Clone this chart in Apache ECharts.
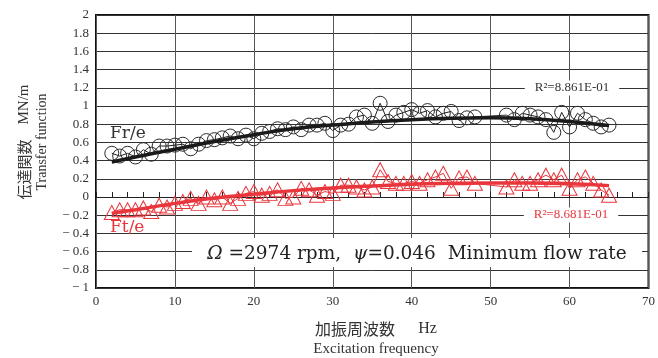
<!DOCTYPE html>
<html>
<head>
<meta charset="utf-8">
<script src="https://cdn.jsdelivr.net/npm/echarts@6/dist/echarts.min.js"></script>
<style>
html,body{margin:0;padding:0;background:#fff;}
#chart{width:658px;height:358px;}
</style>
</head>
<body>
<div id="chart"></div>
<script>
// ---- data ----
var frX = [2,3,4,5,6,7,8,9,10,11,12,13,14,15,16,17,18,19,20,21,22,23,24,25,26,27,28,29,30,31,32,33,34,35,36,37,38,39,40,41,42,43,44,45,46,47,48,52,53,54,55,56,57,58,59,60,61,62,63,64,65];
var frY = [0.48,0.45,0.48,0.44,0.52,0.47,0.56,0.56,0.57,0.58,0.53,0.58,0.62,0.63,0.65,0.67,0.64,0.68,0.64,0.70,0.72,0.75,0.74,0.77,0.74,0.79,0.79,0.81,0.73,0.79,0.80,0.88,0.90,0.81,1.03,0.83,0.90,0.93,0.96,0.92,0.95,0.88,0.92,0.94,0.84,0.87,0.88,0.90,0.85,0.92,0.90,0.88,0.85,0.71,0.93,0.77,0.92,0.85,0.81,0.77,0.79];
var ftX = frX;
var ftY = [-0.17,-0.14,-0.14,-0.14,-0.12,-0.16,-0.09,-0.11,-0.07,-0.05,-0.015,-0.07,0.0,-0.03,0.0,-0.07,-0.015,0.04,0.06,0.02,0.04,0.08,-0.015,0.0,0.095,0.08,0.02,0.06,0.04,0.13,0.13,0.11,0.077,0.11,0.30,0.17,0.15,0.15,0.17,0.15,0.19,0.22,0.26,0.095,0.21,0.22,0.15,0.11,0.19,0.15,0.15,0.19,0.24,0.19,0.24,0.095,0.19,0.22,0.15,0.077,0.02];
var trendX = [2,5,10,15,20,25,30,35,40,45,50,55,60,65];
var frTrend = [0.385,0.44,0.525,0.61,0.685,0.75,0.79,0.825,0.85,0.865,0.87,0.86,0.83,0.785];
var ftTrend = [-0.18,-0.14,-0.07,-0.01,0.03,0.07,0.10,0.12,0.14,0.15,0.155,0.155,0.145,0.125];
var xTicks = {min:0, max:70, step:10};
var yTicks = {min:-1, max:2, step:0.2};
var labels = {
  fr: 'Fr/e', ft: 'Ft/e',
  frR2: 'R\u00b2=8.861E-01', ftR2: 'R\u00b2=8.681E-01',
  yNameJa: '伝達関数\u3000', yNameUnit: 'MN/m', yNameEn: 'Transfer function',
  xNameJa: '加振周波数\u3000  ', xNameUnit: 'Hz', xNameEn: 'Excitation frequency'
};

function pairs(xs, ys){ return xs.map(function(x,i){ return [x, ys[i]]; }); }

var RED = '#e8363c';
var SERIF = '"Liberation Serif", "DejaVu Serif", serif';
var chart = echarts.init(document.getElementById('chart'), null, {renderer:'canvas'});
var option = {
  animation: false,
  backgroundColor: '#fff',
  grid: {left: 96, right: 3, top: 15, bottom: 70, show: true, borderColor: '#111', borderWidth: 2, backgroundColor: 'transparent'},
  xAxis: [{
    type: 'value', min: xTicks.min, max: xTicks.max, interval: xTicks.step, position: 'bottom',
    axisLine: {show: false, onZero: false}, axisTick: {show: false},
    axisLabel: {color: '#333', fontFamily: SERIF, fontSize: 13, margin: 7},
    splitLine: {show: true, lineStyle: {color: '#555', width: 1}}
  },{
    type: 'value', min: xTicks.min, max: xTicks.max, interval: 2, position: 'bottom',
    axisLine: {show: true, onZero: true, lineStyle: {color: '#222', width: 1}},
    axisTick: {show: true, inside: true, length: 5, lineStyle: {color: '#222', width: 1}},
    axisLabel: {show: false}, splitLine: {show: false}
  }],
  yAxis: {
    type: 'value', min: yTicks.min, max: yTicks.max, interval: yTicks.step,
    axisLine: {show: false, onZero: false}, axisTick: {show: false},
    axisLabel: {color: '#333', fontFamily: SERIF, fontSize: 13, margin: 7,
      formatter: function(v){ v = parseFloat(v.toFixed(1)); return v < 0 ? '\u2212 ' + (-v) : String(v); }},
    splitLine: {show: true, lineStyle: {color: '#333', width: 1}}
  },
  series: [{
    name: 'Fr/e', type: 'line', data: pairs(frX, frY),
    symbol: 'circle', symbolSize: 14,
    itemStyle: {color: 'rgba(0,0,0,0)', borderColor: '#2a2a2a', borderWidth: 1},
    lineStyle: {color: '#222', width: 1}, z: 3
  },{
    name: 'Fr trend', type: 'line', data: pairs(trendX, frTrend), smooth: true,
    symbol: 'none', lineStyle: {color: '#1a1a1a', width: 3.5}, z: 4
  },{
    name: 'Ft/e', type: 'line', data: pairs(ftX, ftY),
    symbol: 'triangle', symbolSize: [15, 14],
    itemStyle: {color: 'rgba(0,0,0,0)', borderColor: RED, borderWidth: 1},
    lineStyle: {color: RED, width: 1}, z: 3
  },{
    name: 'Ft trend', type: 'line', data: pairs(trendX, ftTrend), smooth: true,
    symbol: 'none', lineStyle: {color: RED, width: 3.5}, z: 4
  }],
  graphic: [
    {type: 'text', x: 110, y: 134, z: 100, style: {text: labels.fr, font: '17px "DejaVu Serif", serif', fill: '#333', align: 'left', verticalAlign: 'middle'}},
    {type: 'text', x: 110, y: 228, z: 100, style: {text: labels.ft, font: '17px "DejaVu Serif", serif', fill: RED, align: 'left', verticalAlign: 'middle'}},
    {type: 'text', x: 572, y: 88, z: 100, style: {text: labels.frR2, font: '13px ' + SERIF, fill: '#333', align: 'center', verticalAlign: 'middle', backgroundColor: '#fff', padding: [1, 10]}},
    {type: 'text', x: 571, y: 215, z: 100, style: {text: labels.ftR2, font: '13px ' + SERIF, fill: RED, align: 'center', verticalAlign: 'middle', backgroundColor: '#fff', padding: [1, 10]}},
    {type: 'rect', z: 100, shape: {x: 192, y: 238, width: 450, height: 29}, style: {fill: '#fff'}},
    {type: 'text', x: 417, y: 254, z: 101, style: {
      text: '{i|\u03a9} =2974 rpm,  {i|\u03c8}=0.046  Minimum flow rate',
      font: '18.5px "DejaVu Serif", serif', fill: '#222', align: 'center', verticalAlign: 'middle',
      rich: {i: {fontStyle: 'italic', font: 'italic 18.5px "DejaVu Serif", serif', fill: '#222'}}}},
    {type: 'text', x: 24, y: 142, rotation: Math.PI/2, z: 100, style: {
      text: '{ja|' + labels.yNameJa + '}{en|' + labels.yNameUnit + '}',
      align: 'center', verticalAlign: 'middle',
      rich: {ja: {font: '15px "Noto Sans CJK JP", sans-serif', fill: '#333'}, en: {font: '15px ' + SERIF, fill: '#333'}}}},
    {type: 'text', x: 42, y: 142, rotation: Math.PI/2, z: 100, style: {
      text: labels.yNameEn, font: '14px ' + SERIF, fill: '#333', align: 'center', verticalAlign: 'middle'}},
    {type: 'text', x: 376, y: 329, z: 100, style: {
      text: '{ja|' + labels.xNameJa + '}{en|' + labels.xNameUnit + '}',
      align: 'center', verticalAlign: 'middle',
      rich: {ja: {font: '16px "Noto Sans CJK JP", sans-serif', fill: '#333'}, en: {font: '16px ' + SERIF, fill: '#333'}}}},
    {type: 'text', x: 376, y: 349, z: 100, style: {
      text: labels.xNameEn, font: '15px ' + SERIF, fill: '#333', align: 'center', verticalAlign: 'middle'}}
  ]
};
chart.setOption(option);
</script>
</body>
</html>
